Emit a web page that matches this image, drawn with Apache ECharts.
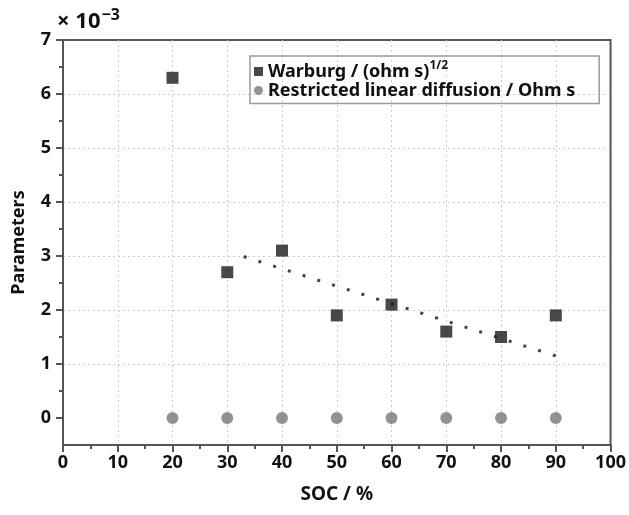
<!DOCTYPE html>
<html><head><meta charset="utf-8">
<script src="https://cdn.jsdelivr.net/npm/echarts@6/dist/echarts.min.js"></script>
<style>html,body{margin:0;padding:0;background:#fff}#c{width:629px;height:515px}</style>
</head><body><div id="c"></div>
<script>
const soc = [20, 30, 40, 50, 60, 70, 80, 90];
const warburg = [6.3, 2.7, 3.1, 1.9, 2.1, 1.6, 1.5, 1.9];
const restricted = [0, 0, 0, 0, 0, 0, 0, 0];
const trendX = [33, 90];
const trendY = [2.99, 1.15];
const yMajor = [0, 1, 2, 3, 4, 5, 6, 7];
const yMinor = [0.5, 1.5, 2.5, 3.5, 4.5, 5.5, 6.5];

const FONT = '"Noto Sans", "Open Sans", sans-serif';
const W = 'bold';
const FS = 18;
const AX = '#555';
const chart = echarts.init(document.getElementById('c'));
chart.setOption({
  animation: false,
  grid: { left: 63, right: 16, top: 40, bottom: 70, show: true, borderColor: AX, borderWidth: 2, backgroundColor: 'transparent' },
  xAxis: {
    type: 'value', min: 0, max: 100, interval: 10,
    name: 'SOC / %', nameLocation: 'middle', nameGap: 40,
    nameTextStyle: { fontFamily: FONT, fontWeight: W, fontSize: 19, color: '#111' },
    axisLine: { show: true, onZero: false, lineStyle: { color: AX, width: 2 } },
    axisTick: { show: true, length: 7, lineStyle: { color: AX, width: 2 } },
    minorTick: { show: true, splitNumber: 2, length: 4, lineStyle: { color: AX, width: 2 } },
    axisLabel: { fontFamily: FONT, fontWeight: W, fontSize: FS, color: '#111', margin: 9 },
    splitLine: { show: true, showMinLine: false, showMaxLine: false, lineStyle: { color: '#ccc', type: [2, 3], width: 1 } }
  },
  yAxis: [{
    type: 'value', min: -0.5, max: 7,
    name: 'Parameters', nameLocation: 'middle', nameGap: 35,
    nameTextStyle: { fontFamily: FONT, fontWeight: W, fontSize: FS, color: '#111' },
    axisLine: { show: true, onZero: false, lineStyle: { color: AX, width: 2 } },
    axisTick: { show: true, length: 7, customValues: yMajor, lineStyle: { color: AX, width: 2 } },
    axisLabel: { customValues: yMajor, fontFamily: FONT, fontWeight: W, fontSize: FS, color: '#111', margin: 12 },
    splitLine: { show: true, showMinLine: false, showMaxLine: false, lineStyle: { color: '#ccc', type: [2, 3], width: 1 } }
  }, {
    type: 'value', min: -0.5, max: 7, position: 'left',
    axisLine: { show: false },
    axisTick: { show: true, length: 4, customValues: yMinor, lineStyle: { color: AX, width: 2 } },
    axisLabel: { show: false, customValues: yMinor },
    splitLine: { show: false }
  }],
  legend: {
    orient: 'vertical', left: 250, top: 56, itemGap: 1,
    borderColor: '#999', borderWidth: 1.5, padding: [4, 24, 4, 4],
    itemWidth: 9, itemHeight: 9,
    textStyle: {
      fontFamily: FONT, fontWeight: W, fontSize: FS, color: '#111',
      rich: {
        n: { fontFamily: FONT, fontWeight: W, fontSize: FS, color: '#111' },
        s: { fontFamily: FONT, fontWeight: W, fontSize: 12, color: '#111', padding: [0, 0, 11, 0] }
      }
    },
    formatter: function (name) {
      if (name.indexOf('Warburg') === 0) return '{n|Warburg / (ohm s)}{s|1/2}';
      return '{n|' + name + '}';
    },
    data: [
      { name: 'Warburg / (ohm s)^(1/2)', icon: 'rect', itemStyle: { color: '#1a1a1a' } },
      { name: 'Restricted linear diffusion / Ohm s', icon: 'circle', itemStyle: { color: '#777' } }
    ]
  },
  graphic: [{
    type: 'text', left: 57, top: 7,
    style: {
      text: '{a|× 10}{b|−3}',
      rich: {
        a: { font: 'bold 22px "Noto Sans"', fill: '#111' },
        b: { font: 'bold 16px "Noto Sans"', fill: '#111', padding: [0, 0, 14, 1] }
      }
    }
  }],
  series: [
    {
      name: 'trend', type: 'line', showSymbol: false, symbol: 'none', silent: true,
      data: trendX.map((x, i) => [x, trendY[i]]),
      lineStyle: { color: '#444', width: 3, type: [3, 12.45] }, z: 1
    },
    {
      name: 'Warburg / (ohm s)^(1/2)', type: 'scatter', symbol: 'rect', symbolSize: 12,
      data: soc.map((x, i) => [x, warburg[i]]),
      itemStyle: { color: '#1a1a1a' }, z: 3
    },
    {
      name: 'Restricted linear diffusion / Ohm s', type: 'scatter', symbol: 'circle', symbolSize: 12,
      data: soc.map((x, i) => [x, restricted[i]]),
      itemStyle: { color: '#777' }, z: 3
    }
  ]
});
</script></body></html>
